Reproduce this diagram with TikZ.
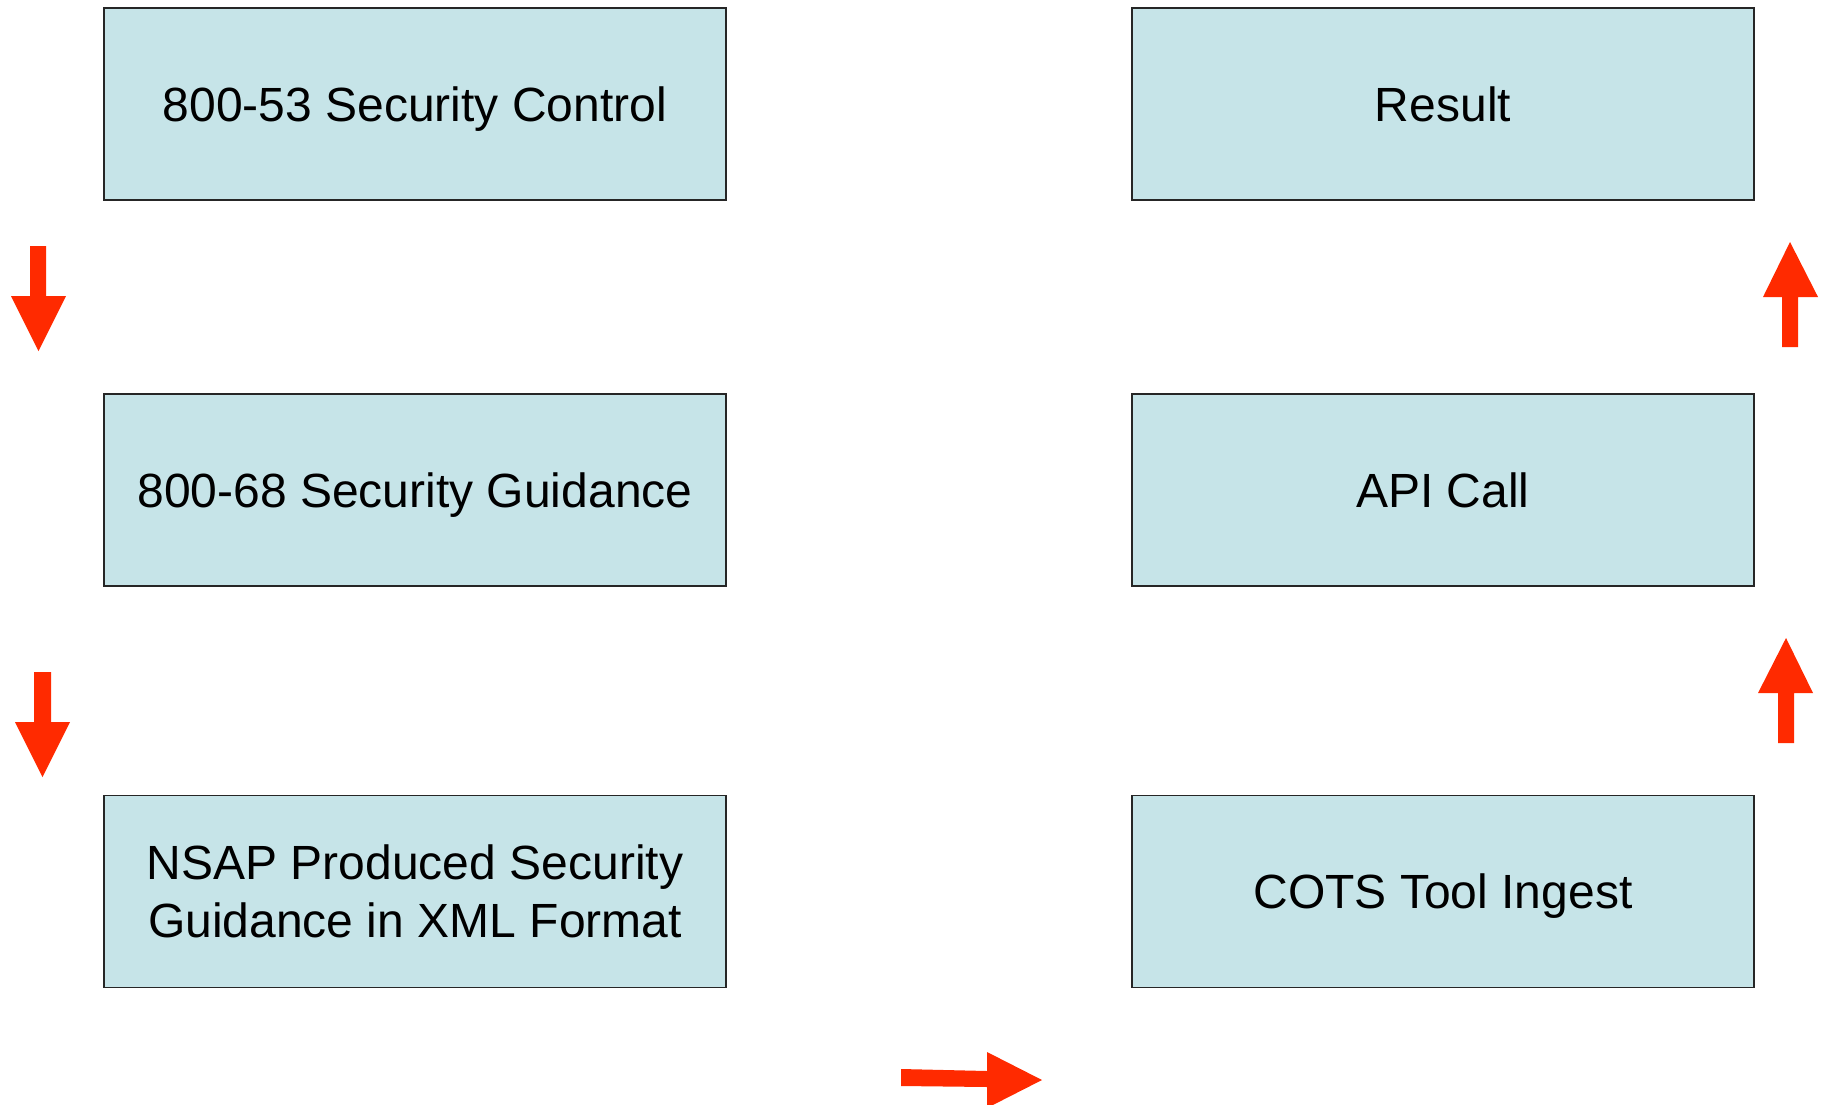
\documentclass[tikz,border=0pt]{standalone}
\usepackage{fontspec}
\setmainfont{Liberation Sans}
\definecolor{boxfill}{HTML}{C6E4E8}
\definecolor{arrowred}{HTML}{FF2A00}
\begin{document}
\begin{tikzpicture}[x=1pt,y=-1pt,
  stepbox/.style={draw=black!85, line width=1.6pt, fill=boxfill,
    minimum width=622pt, minimum height=192pt, align=center,
    inner sep=0pt, font=\fontsize{48}{58}\selectfont},
  oneline/.style={text depth=0pt},
  blockarrow/.style={fill=arrowred, draw=none}]
  \useasboundingbox (0,0) rectangle (1825,1105);

  % left column
  \node[stepbox,oneline] (control)  at (415,104) {800-53 Security Control};
  \node[stepbox,oneline] (guidance) at (415,490) {800-68 Security Guidance};
  \node[stepbox] (nsap) at (415,891.5) {NSAP Produced Security\\Guidance in XML Format};

  % right column
  \node[stepbox,oneline] (result) at (1443,104)   {Result};
  \node[stepbox,oneline] (api)    at (1443,490)   {API Call};
  \node[stepbox,oneline] (cots)   at (1443,891.5) {COTS Tool Ingest};

  % block arrows showing the flow
  \fill[blockarrow] (30,246) -- (46,246) -- (46,296) -- (66,296) -- (38.5,351)
    -- (11,296) -- (30,296) -- cycle;
  \fill[blockarrow] (34,672) -- (51,672) -- (51,722) -- (70,722) -- (42.5,777)
    -- (15,722) -- (34,722) -- cycle;
  \fill[blockarrow] (901,1069) -- (987,1071) -- (987,1052) -- (1042,1080)
    -- (987,1108) -- (987,1087) -- (901,1086) -- cycle;
  \fill[blockarrow] (1778,743) -- (1794,743) -- (1794,693) -- (1813,693)
    -- (1786,638) -- (1758,693) -- (1778,693) -- cycle;
  \fill[blockarrow] (1782,347) -- (1798,347) -- (1798,297) -- (1818,297)
    -- (1790,242) -- (1763,297) -- (1782,297) -- cycle;
\end{tikzpicture}
\end{document}
